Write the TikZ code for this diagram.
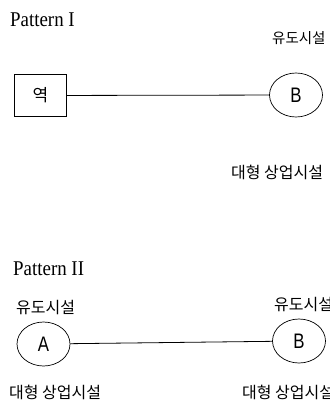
\documentclass[tikz,border=0pt]{standalone}
\usepackage{fontspec}
\setmainfont{Liberation Serif}
\newfontfamily\kr{Noto Sans CJK KR}
\newfontfamily\lsans[FakeStretch=0.8]{Liberation Sans}
\newfontfamily\tserif[FakeStretch=0.9]{Liberation Serif}
\usetikzlibrary{shapes.geometric}
\tikzset{
  title/.style={anchor=base west, inner sep=0pt, font=\tserif\fontsize{21}{21}\selectfont},
  lbl/.style={anchor=west, inner sep=0pt, font=\kr\fontsize{16}{16}\selectfont},
  fac/.style={draw, ellipse, minimum width=53pt, minimum height=44pt, inner sep=0pt, line width=0.7pt, font=\lsans\fontsize{21}{21}\selectfont},
  stn/.style={draw, rectangle, minimum width=52pt, minimum height=42pt, inner sep=0pt, line width=0.7pt, font=\kr\fontsize{17}{17}\selectfont},
  conn/.style={line width=0.8pt}
}
\begin{document}
\begin{tikzpicture}[x=1pt,y=-1pt]
\useasboundingbox (0,0) rectangle (329,401);
% Pattern I
\node[title] (t1) at (10,27) {Pattern I};
\node[lbl, font=\kr\fontsize{14.5}{14.5}\selectfont] (u1) at (272,38) {유도시설};
\node[stn] (st) at (40.5,95.5) {역};
\node[fac] (b1) at (296,95) {B};
\node[lbl] (d1) at (231,172) {대형 상업시설};
\draw[conn] (st) -- (b1);
% Pattern II
\node[title] (t2) at (13,275) {Pattern II};
\node[lbl] (u2) at (16,308) {유도시설};
\node[lbl] (u3) at (274,305) {유도시설};
\node[fac] (a2) at (43.5,344) {A};
\node[fac] (b2) at (299,341) {B};
\node[lbl] (d2) at (9,392) {대형 상업시설};
\node[lbl] (d3) at (242,392) {대형 상업시설};
\draw[conn] (a2) -- (b2);
\end{tikzpicture}
\end{document}
